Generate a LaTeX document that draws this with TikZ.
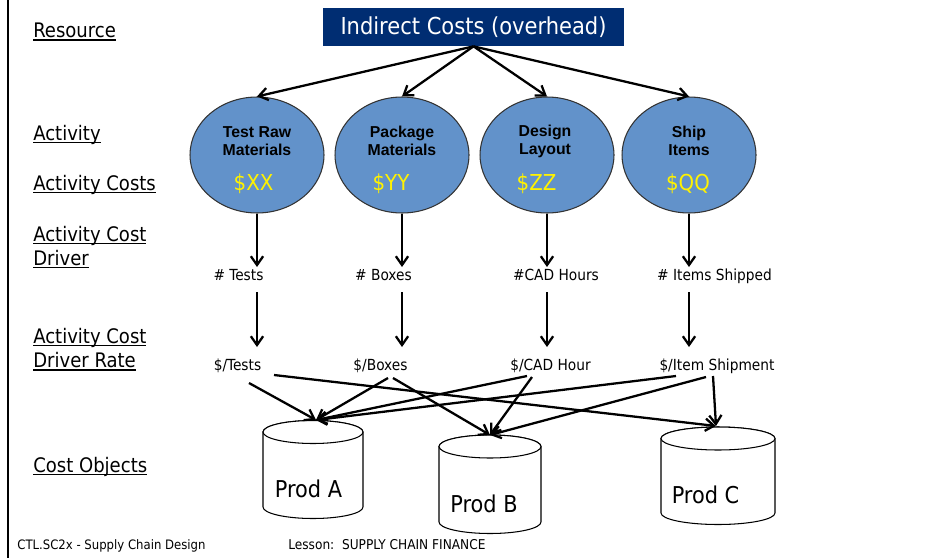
\documentclass[tikz,border=0pt]{standalone}
\usepackage{fontspec}
\setmainfont{DejaVu Sans Condensed}
\newfontfamily\arialb{Liberation Sans}
\usetikzlibrary{shapes.geometric,arrows.meta,calc}
\definecolor{navy}{RGB}{0,45,114}
\definecolor{ellblue}{RGB}{98,146,202}
\newcommand\myul[1]{\setbox0=\hbox{#1}\rlap{\rule[-1.8pt]{\wd0}{0.75pt}}\box0}
\begin{document}
\begin{tikzpicture}[x=0.02cm,y=-0.02cm,
  arr/.style={line width=1.3pt,-{Straight Barb[length=5pt,width=7pt]}},
  lab/.style={anchor=base west,inner sep=0pt,font=\fontsize{11.4}{13}\selectfont},
  act/.style={ellipse,draw=black!80,line width=0.6pt,fill=ellblue,minimum width=2.68cm,minimum height=2.32cm,inner sep=0pt},
  acttxt/.style={align=center,font=\arialb\bfseries\fontsize{9}{10.2}\selectfont,inner sep=0pt},
  cost/.style={text=yellow,font=\fontsize{12.5}{14}\selectfont,inner sep=0pt},
  drv/.style={anchor=base,font=\fontsize{8.7}{10}\selectfont,inner sep=0pt},
  prod/.style={anchor=base,font=\fontsize{13.2}{15}\selectfont,inner sep=0pt},
  foot/.style={anchor=base west,font=\fontsize{7.4}{9}\selectfont,inner sep=0pt},
  cyl/.style={draw=black,line width=0.6pt,fill=white}]
\useasboundingbox (0,0) rectangle (952,558);
\draw[line width=1pt] (8,0) -- (8,558);

% title
\node[fill=navy,text=white,minimum width=6.02cm,minimum height=0.76cm,inner sep=0pt,
      font=\fontsize{13.3}{15}\selectfont] (title) at (473.5,27) {Indirect Costs (overhead)};

% left labels
\node[lab] (l1) at (33,37.5) {\myul{Resource}};
\node[lab] (l2) at (33,140) {\myul{Activity}};
\node[lab] (l3) at (33,190) {\myul{Activity Costs}};
\node[lab] (l4) at (33,241) {\myul{Activity Cost}};
\node[lab] (l5) at (33,265) {\myul{Driver}};
\node[lab] (l6) at (33,343) {\myul{Activity Cost}};
\node[lab] (l7) at (33,367.5) {\myul{Driver Rate}};
\node[lab] (l8) at (33,472) {\myul{Cost Objects}};

% activities
\node[act] (e1) at (257,155) {};
\node[act] (e2) at (402,155) {};
\node[act] (e3) at (547,155) {};
\node[act] (e4) at (689,155) {};
\node[acttxt] (n1) at (257,141) {Test Raw\\Materials};
\node[acttxt] (n2) at (402,141) {Package\\Materials};
\node[acttxt] (n3) at (545,141) {Design\\Layout};
\node[acttxt] (n4) at (689,141) {Ship\\Items};
\node[cost] (c1) at (253.5,183.5) {\$XX};
\node[cost] (c2) at (391,183.5) {\$YY};
\node[cost] (c3) at (536.5,183.5) {\$ZZ};
\node[cost] (c4) at (688,183.5) {\$QQ};

% drivers
\node[drv] (d1) at (238.5,280) {\# Tests};
\node[drv] (d2) at (383.5,280) {\# Boxes};
\node[drv] (d3) at (556,280) {\#CAD Hours};
\node[drv] (d4) at (714.5,280) {\# Items Shipped};
\node[drv] (r1) at (237.5,370) {\$/Tests};
\node[drv] (r2) at (380.5,370) {\$/Boxes};
\node[drv] (r3) at (550.5,370) {\$/CAD Hour};
\node[drv] (r4) at (717,370) {\$/Item Shipment};

% title arrows
\foreach \e in {e1,e2,e3,e4}{
  \draw[arr] (title.south) -- (\e.north);
}
% vertical arrows
\foreach \e/\d/\r in {e1/d1/r1,e2/d2/r2,e3/d3/r3,e4/d4/r4}{
  \draw[arr] (\e.south) -- ($(\e.south |- \d.base)+(0,-13)$);
  \draw[arr] ($(\e.south |- \d.base)+(0,12)$) -- ($(\e.south |- \r.base)+(0,-23)$);
}

% cylinders
\path[cyl] (263,432) -- (263,507) arc[start angle=180,end angle=360,x radius=1cm,y radius=0.23cm]
  -- (363,432) arc[start angle=0,end angle=180,x radius=1cm,y radius=0.23cm] -- cycle;
\draw[cyl] (313,432) ellipse [x radius=1cm,y radius=0.23cm];
\path[cyl] (439,446.5) -- (439,522) arc[start angle=180,end angle=360,x radius=1.02cm,y radius=0.23cm]
  -- (541,446.5) arc[start angle=0,end angle=180,x radius=1.02cm,y radius=0.23cm] -- cycle;
\draw[cyl] (490,446.5) ellipse [x radius=1.02cm,y radius=0.23cm];
\path[cyl] (661,438.5) -- (661,513) arc[start angle=180,end angle=360,x radius=1.14cm,y radius=0.23cm]
  -- (775,438.5) arc[start angle=0,end angle=180,x radius=1.14cm,y radius=0.23cm] -- cycle;
\draw[cyl] (718,438.5) ellipse [x radius=1.14cm,y radius=0.23cm];
\node[prod] (pA) at (308.5,497) {Prod A};
\node[prod] (pB) at (484,512) {Prod B};
\node[prod] (pC) at (705.5,503) {Prod C};

% cross arrows
\coordinate (tA) at (316,420);
\coordinate (tB) at (490,435);
\coordinate (tC) at (716,426);
\coordinate (sT1) at (249,383);
\coordinate (sT2) at (274,375);
\coordinate (sB1) at (388,378);
\coordinate (sB2) at (393,378);
\coordinate (sC1) at (527,376);
\coordinate (sC2) at (532,377);
\coordinate (sI1) at (676,376);
\coordinate (sI2) at (706,377);
\coordinate (sI3) at (713,376);
\draw[arr] (sT1) -- (tA);
\draw[arr] (sT2) -- (tC);
\draw[arr] (sB1) -- (tA);
\draw[arr] (sB2) -- (tB);
\draw[arr] (sC1) -- (tA);
\draw[arr] (sC2) -- (tB);
\draw[arr] (sI1) -- (tA);
\draw[arr] (sI2) -- (tB);
\draw[arr] (sI3) -- (tC);

% footer
\node[foot] (f1) at (17,549) {CTL.SC2x - Supply Chain Design};
\node[foot,font=\fontsize{7.7}{9}\selectfont] (f2) at (288,549) {Lesson:\ \ SUPPLY CHAIN FINANCE};
\end{tikzpicture}
\end{document}
